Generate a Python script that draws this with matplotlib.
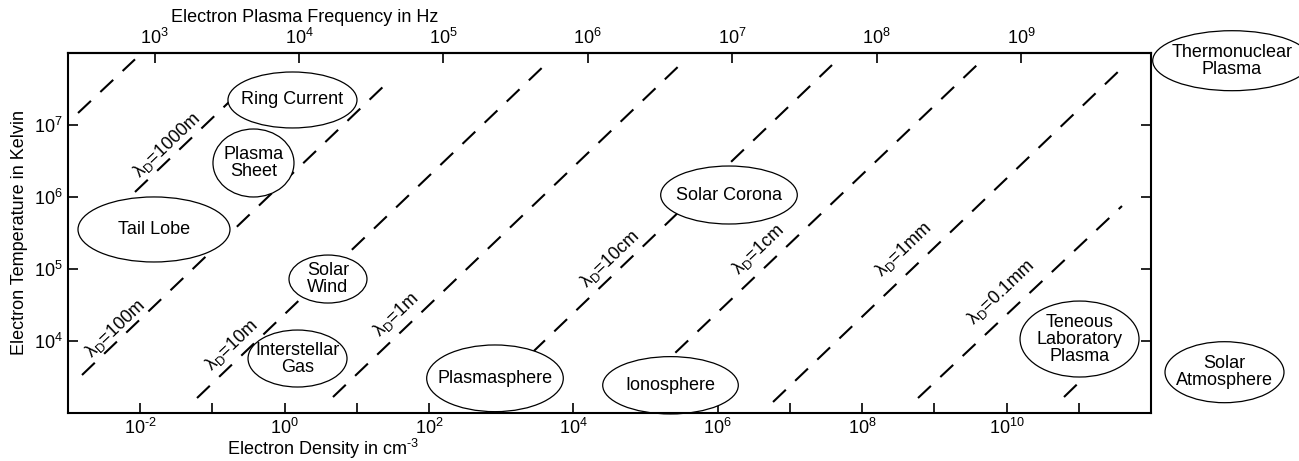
import numpy as np
import matplotlib
matplotlib.use("Agg")
import matplotlib.pyplot as plt
from matplotlib.patches import Ellipse
from matplotlib.ticker import FixedLocator, NullLocator, NullFormatter

plt.rcParams['font.family'] = ['Liberation Sans', 'DejaVu Sans']
plt.rcParams['mathtext.fontset'] = 'custom'
plt.rcParams['mathtext.rm'] = 'Liberation Sans'
plt.rcParams['mathtext.it'] = 'Liberation Sans'
plt.rcParams['mathtext.bf'] = 'Liberation Sans'
plt.rcParams['mathtext.default'] = 'regular'

# ---------------- data ----------------
# axis ranges
density_range = [1e-3, 1e12]        # cm^-3
temperature_range = [1e3, 1e8]      # K
plasma_freq_coeff = 7.95e3          # f_pe = coeff * sqrt(n)

# bottom axis ticks
density_major_ticks = [1e-2, 1e0, 1e2, 1e4, 1e6, 1e8, 1e10]
density_tick_labels = ['$10^{\u20102}$', '$10^{0}$', '$10^{2}$', '$10^{4}$',
                       '$10^{6}$', '$10^{8}$', '$10^{10}$']
density_minor_ticks = [1e-1, 1e1, 1e3, 1e5, 1e7, 1e9, 1e11]
# left axis ticks
temperature_ticks = [1e4, 1e5, 1e6, 1e7]
temperature_tick_labels = ['$10^{4}$', '$10^{5}$', '$10^{6}$', '$10^{7}$']
# top axis ticks
freq_ticks = [1e3, 1e4, 1e5, 1e6, 1e7, 1e8, 1e9]
freq_tick_labels = ['$10^{3}$', '$10^{4}$', '$10^{5}$', '$10^{6}$',
                    '$10^{7}$', '$10^{8}$', '$10^{9}$']

# Debye length lines: start/end density and temperature
debye_labels = ['', '1000m', '100m', '10m', '1m', '10cm', '1cm', '1mm', '0.1mm', '']
line_n_start = [10**-2.861, 10**-2.072, 10**-2.806, 10**-1.213, 10**0.670,
                10**2.817, 10**4.798, 10**6.765, 10**8.773, 10**10.795]
line_T_start = [10**7.166, 10**6.068, 10**3.524, 10**3.204, 10**3.218,
                10**3.246, 10**3.246, 10**3.149, 10**3.204, 10**3.218]
line_n_end = [10**-2.072, 10**-0.479, 10**1.414, 10**3.634, 10**5.518,
              10**7.582, 10**9.590, 10**11.598, 10**11.598, 10**11.294]
line_T_end = [10**7.912, 10**7.597, 10**7.579, 10**7.861, 10**7.875,
              10**7.833, 10**7.833, 10**7.791, 10**5.873, 10**3.705]

# plasma regimes: names and central density / temperature
region_names = ['Ring Current', 'Plasma\nSheet', 'Tail Lobe', 'Solar\nWind',
                'Interstellar\nGas', 'Plasmasphere', 'Ionosphere', 'Solar Corona',
                'Teneous\nLaboratory\nPlasma', 'Thermonuclear\nPlasma',
                'Solar\nAtmosphere']
region_n = [10**0.109, 10**-0.431, 10**-1.809, 10**0.601, 10**0.179, 10**2.914,
            10**5.345, 10**6.155, 10**11.010, 10**13.122, 10**13.018]
region_T = [10**7.347, 10**6.471, 10**5.547, 10**4.858, 10**3.753, 10**3.478,
            10**3.381, 10**6.026, 10**4.024, 10**7.893, 10**3.563]

# ---------------- layout ----------------
# ellipse sizes in decades (width along density, height along temperature)
region_w = [1.787, 1.122, 2.105, 1.080, 1.371, 1.892, 1.878, 1.892, 1.648, 2.197, 1.648]
region_h = [0.778, 0.945, 0.904, 0.667, 0.792, 0.927, 0.797, 0.806, 1.056, 0.834, 0.848]
# label centres for Debye lines (density, temperature)
label_n = [None, 10**-1.636, 10**-2.349, 10**-0.729, 10**1.543, 10**4.507,
           10**6.564, 10**8.572, 10**9.916, None]
label_T = [None, 10**6.714, 10**4.163, 10**3.941, 10**4.358, 10**5.137,
           10**5.262, 10**5.262, 10**4.671, None]

FS = 13
W, H = 1299, 461
fig = plt.figure(figsize=(W / 100, H / 100), dpi=100)
x0, x1, ytop, ybot = 68, 1151, 53, 412.7
ax = fig.add_axes([x0 / W, (H - ybot) / H, (x1 - x0) / W, (ybot - ytop) / H])
ax.set_xscale('log')
ax.set_yscale('log')
ax.set_xlim(density_range)
ax.set_ylim(temperature_range)
ax.set_autoscale_on(False)

for s in ax.spines.values():
    s.set_linewidth(1.5)
    s.set_zorder(5)

ax.xaxis.set_major_locator(FixedLocator(density_major_ticks))
ax.set_xticklabels(density_tick_labels)
ax.xaxis.set_minor_locator(FixedLocator(density_minor_ticks))
ax.xaxis.set_minor_formatter(NullFormatter())
ax.yaxis.set_major_locator(FixedLocator(temperature_ticks))
ax.set_yticklabels(temperature_tick_labels)
ax.yaxis.set_minor_locator(NullLocator())
ax.tick_params(axis='x', which='both', direction='in', length=7.2, width=1.2,
               top=False, bottom=True, labelsize=FS, pad=3.5)
ax.tick_params(axis='y', which='both', direction='in', length=7.2, width=1.2,
               left=True, right=True, labelsize=FS, pad=4)

fwd = lambda n: plasma_freq_coeff * np.sqrt(np.clip(n, 1e-300, None))
inv = lambda f: (np.asarray(f) / plasma_freq_coeff) ** 2
sec = ax.secondary_xaxis('top', functions=(fwd, inv))
sec.xaxis.set_major_locator(FixedLocator(freq_ticks))
sec.set_xticklabels(freq_tick_labels)
sec.xaxis.set_minor_locator(NullLocator())
sec.tick_params(axis='x', which='both', direction='in', length=7.2, width=1.2,
                labelsize=FS, pad=3.5)
sec.spines['top'].set_linewidth(1.5)

# axis labels
ax.set_xlabel('Electron Density in cm$^{\u20103}$', fontsize=FS)
ax.xaxis.set_label_coords((323 - x0) / (x1 - x0), (ybot - 449) / (ybot - ytop),
                          transform=ax.transAxes)
ax.xaxis.label.set_verticalalignment('center')
sec.set_xlabel('Electron Plasma Frequency in Hz', fontsize=FS)
sec.xaxis.set_label_coords((305 - x0) / (x1 - x0), (ybot - 18) / (ybot - ytop),
                           transform=ax.transAxes)
sec.xaxis.label.set_verticalalignment('center')
ax.set_ylabel('Electron Temperature in Kelvin', fontsize=FS)
ax.yaxis.set_label_coords((20 - x0) / (x1 - x0), 0.5, transform=ax.transAxes)
ax.yaxis.label.set_verticalalignment('center')

# Debye-length lines
for i in range(len(debye_labels)):
    ax.plot([line_n_start[i], line_n_end[i]], [line_T_start[i], line_T_end[i]],
            color='black', lw=1.5, linestyle=(0, (8.5, 6.2)),
            dash_capstyle='butt', zorder=2, clip_on=False)
    if debye_labels[i]:
        ax.text(label_n[i], label_T[i], 'λ$_{D}$=' + debye_labels[i],
                rotation=43.7, rotation_mode='anchor', ha='center', va='center',
                fontsize=FS, zorder=4)

# plasma regions (ellipses drawn in scaled log space)
scaled = ax.transLimits + ax.transAxes
for name, n, T, w, h in zip(region_names, region_n, region_T, region_w, region_h):
    cx, cy = ax.transScale.transform((n, T))
    e = Ellipse((cx, cy), w, h, transform=scaled, facecolor='white',
                edgecolor='black', lw=0.9, zorder=3, clip_on=False)
    ax.add_patch(e)
    ax.text(n, T, name, ha='center', va='center', fontsize=FS,
            linespacing=1.0, zorder=4)

fig.savefig('out.png', dpi=100)
